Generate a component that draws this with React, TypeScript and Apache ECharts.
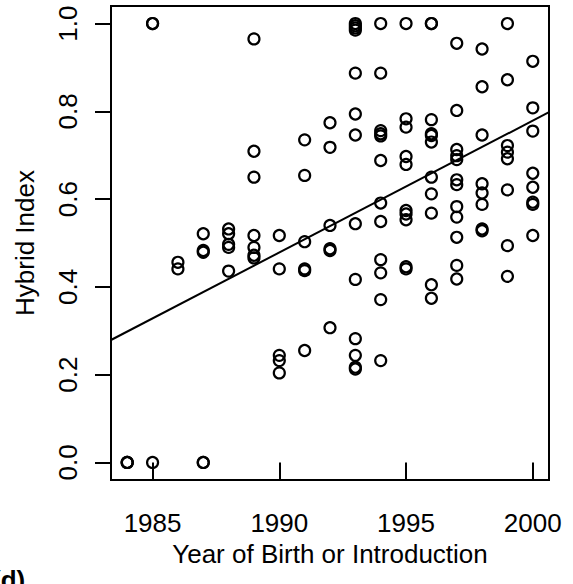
import React, { useEffect, useRef } from "react";
import * as echarts from "echarts";

// ---- data ----
const years = [1984, 1985, 1986, 1987, 1988, 1989, 1990, 1991, 1992, 1993, 1994, 1995, 1996, 1997, 1998, 1999, 2000];
const valuesByYear = [
  [0, 0, 0],
  [1.0, 1.0, 0],
  [0.456, 0.441],
  [0.521, 0.483, 0.479, 0, 0],
  [0.532, 0.521, 0.497, 0.49, 0.436],
  [0.965, 0.709, 0.65, 0.517, 0.49, 0.472, 0.466],
  [0.517, 0.441, 0.244, 0.232, 0.204],
  [0.735, 0.654, 0.503, 0.441, 0.437, 0.255],
  [0.774, 0.718, 0.54, 0.487, 0.483, 0.307],
  [1.0, 0.995, 0.99, 0.985, 0.887, 0.794, 0.746, 0.544, 0.417, 0.282, 0.244, 0.217, 0.213],
  [1.0, 0.887, 0.756, 0.749, 0.744, 0.688, 0.591, 0.549, 0.462, 0.432, 0.371, 0.232],
  [1.0, 0.783, 0.764, 0.697, 0.679, 0.574, 0.566, 0.553, 0.446, 0.441],
  [1.0, 1.0, 0.781, 0.749, 0.745, 0.73, 0.65, 0.612, 0.568, 0.405, 0.374],
  [0.955, 0.802, 0.713, 0.699, 0.69, 0.644, 0.633, 0.583, 0.559, 0.513, 0.449, 0.418],
  [0.942, 0.856, 0.746, 0.635, 0.614, 0.588, 0.532, 0.528],
  [1.0, 0.872, 0.722, 0.707, 0.692, 0.621, 0.494, 0.424],
  [0.914, 0.808, 0.755, 0.659, 0.627, 0.593, 0.588, 0.517],
];
const xTicks = [1985, 1990, 1995, 2000];
const yTicks = [0, 0.2, 0.4, 0.6, 0.8, 1.0];
const xRange = [1983.36, 2000.64];
const yRange = [-0.04, 1.04];
const fitYears = [1983.36, 2000.64];
const fitValues = [0.279, 0.798];

const FONT = "'Liberation Sans', Arial, Helvetica, sans-serif";
const FS = 26;

export default function App() {
  const ref = useRef<HTMLDivElement>(null);
  useEffect(() => {
    if (!ref.current) return;
    const chart = echarts.init(ref.current, undefined, { renderer: "svg" });
    const points: number[][] = [];
    years.forEach((y, i) => valuesByYear[i].forEach((v) => points.push([y, v])));
    const fit = fitYears.map((y, i) => [y, fitValues[i]]);
    const tickStyle = { color: "#000", width: 2 };
    chart.setOption({
      animation: false,
      backgroundColor: "#fff",
      grid: {
        left: 111,
        top: 6,
        width: 438,
        height: 474,
        show: true,
        borderColor: "#000",
        borderWidth: 2,
        backgroundColor: "transparent",
      },
      xAxis: {
        type: "value",
        min: xRange[0],
        max: xRange[1],
        splitLine: { show: false },
        axisLine: { show: false },
        axisTick: { show: true, customValues: xTicks, length: 17, lineStyle: tickStyle },
        axisLabel: {
          customValues: xTicks,
          margin: 30,
          fontSize: FS,
          color: "#000",
          fontFamily: FONT,
          formatter: (v: number) => String(Math.round(v)),
        },
        name: "Year of Birth or Introduction",
        nameLocation: "middle",
        nameGap: 60,
        nameTextStyle: { fontSize: FS, color: "#000", fontFamily: FONT },
      },
      yAxis: {
        type: "value",
        min: yRange[0],
        max: yRange[1],
        splitLine: { show: false },
        axisLine: { show: false },
        axisTick: { show: true, customValues: yTicks, length: 16, lineStyle: tickStyle },
        axisLabel: {
          customValues: yTicks,
          rotate: 90,
          margin: 30,
          fontSize: FS,
          color: "#000",
          fontFamily: FONT,
          formatter: (v: number) => v.toFixed(1),
        },
        name: "Hybrid Index",
        nameLocation: "middle",
        nameGap: 73,
        nameTextStyle: { fontSize: FS, color: "#000", fontFamily: FONT },
      },
      series: [
        {
          type: "scatter",
          data: points,
          symbol: "circle",
          symbolSize: 11,
          itemStyle: { color: "rgba(0,0,0,0)", borderColor: "#000", borderWidth: 2.2, opacity: 1 },
          z: 3,
        },
        {
          type: "line",
          data: fit,
          symbol: "none",
          lineStyle: { color: "#000", width: 2 },
          z: 2,
        },
      ],
      graphic: [
        {
          type: "text",
          left: -8,
          top: 567,
          style: { text: "(d)", font: `bold 26px ${FONT}`, fill: "#000" },
        },
      ],
    });
    return () => chart.dispose();
  }, []);
  return (
    <div
      ref={ref}
      style={{ position: "fixed", left: 0, top: 0, width: 573, height: 584 }}
    />
  );
}
